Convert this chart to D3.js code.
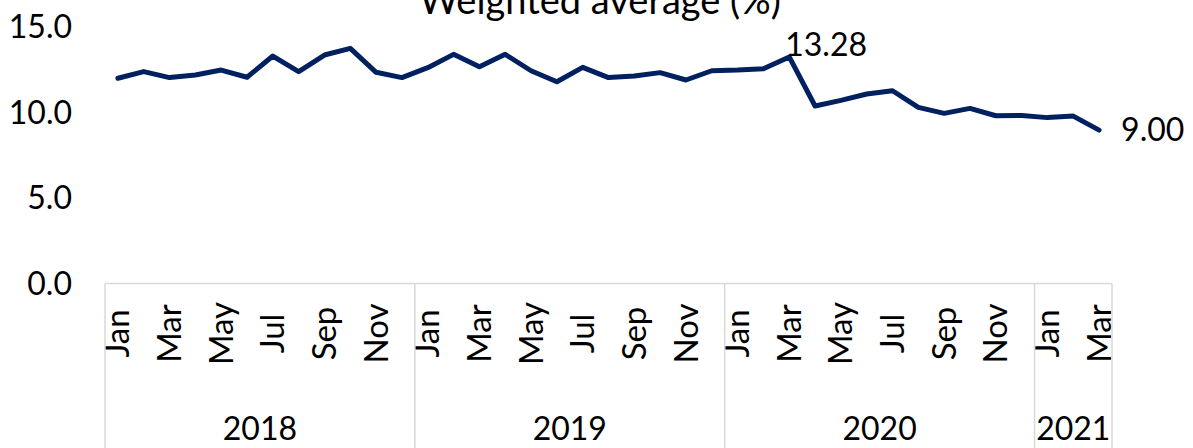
<!DOCTYPE html>
<html>
<head>
<meta charset="utf-8">
<script src="https://cdn.jsdelivr.net/npm/d3@7"></script>
<style>
  html, body { margin: 0; padding: 0; background: #fff; }
  svg { display: block; font-family: Lato, "Open Sans", sans-serif; }
</style>
</head>
<body>
<svg id="chart" width="1193" height="448"></svg>
<script>
// ---- data ----
const title = "Weighted average (%)";
const years = ["2018", "2019", "2020", "2021"];
const monthsPerYear = [12, 12, 12, 3];
const monthNames = ["Jan","Feb","Mar","Apr","May","Jun","Jul","Aug","Sep","Oct","Nov","Dec"];
const values = [
  12.03, 12.42, 12.07, 12.22, 12.51, 12.09, 13.33, 12.42, 13.39, 13.78, 12.38, 12.07,
  12.65, 13.43, 12.71, 13.43, 12.47, 11.83, 12.67, 12.07, 12.16, 12.36, 11.93, 12.47,
  12.51, 12.59, 13.28, 10.41, 10.74, 11.11, 11.30, 10.33, 9.98, 10.27, 9.84, 9.86,
  9.73, 9.82, 9.00
];
const yTicks = [0, 5, 10, 15];
const labelled = [{ idx: 26, text: "13.28", pos: "above" }, { idx: 38, text: "9.00", pos: "right" }];

// ---- build points ----
const points = [];
years.forEach((yr, yi) => {
  for (let m = 0; m < monthsPerYear[yi]; m++) {
    points.push({ key: yr + "-" + m, year: yr, month: monthNames[m], value: values[points.length] });
  }
});

const svg = d3.select("#chart");
const plotLeft = 105, plotRight = 1112, plotTop = 27.5, plotBottom = 284;

const x = d3.scaleBand().domain(points.map(d => d.key)).range([plotLeft, plotRight]).padding(0);
const y = d3.scaleLinear().domain([0, 15]).range([plotBottom, plotTop]);
const cx = k => x(k) + x.bandwidth() / 2;

// title
svg.append("text")
  .attr("x", 600).attr("y", 14)
  .attr("text-anchor", "middle")
  .attr("font-size", 38)
  .attr("fill", "#000")
  .text(title);

// y axis
const yAxis = svg.append("g")
  .attr("transform", `translate(${plotLeft},0)`)
  .call(d3.axisLeft(y).tickValues(yTicks).tickFormat(d3.format(".1f")).tickSize(0).tickPadding(33));
yAxis.select(".domain").remove();
yAxis.selectAll("text").attr("font-size", 32).attr("font-family", "Lato, sans-serif").attr("fill", "#000");

// x axis (months)
const axisY = 283.5;
const xAxis = svg.append("g")
  .attr("transform", `translate(0,${axisY})`)
  .call(d3.axisBottom(x).tickSize(0)
    .tickFormat((d, i) => (i % 2 === 0 ? points[i].month : "")));
xAxis.select(".domain").remove();
xAxis.selectAll("text")
  .attr("font-size", 33)
  .attr("font-family", "Lato, sans-serif")
  .attr("fill", "#000")
  .attr("transform", "rotate(-90)")
  .attr("text-anchor", "middle")
  .attr("x", -50)
  .attr("y", 0)
  .attr("dy", "0.35em");

// axis line and group separators
const gridColor = "#d9d9d9";
svg.append("line")
  .attr("x1", plotLeft).attr("x2", plotRight)
  .attr("y1", axisY).attr("y2", axisY)
  .attr("stroke", gridColor).attr("stroke-width", 1.5);

let start = 0;
const bounds = [];
years.forEach((yr, yi) => {
  const firstKey = points[start].key;
  const lastKey = points[start + monthsPerYear[yi] - 1].key;
  bounds.push({ year: yr, x0: x(firstKey), x1: x(lastKey) + x.bandwidth() });
  start += monthsPerYear[yi];
});
const sepXs = [bounds[0].x0].concat(bounds.map(b => b.x1));
svg.selectAll("line.sep").data(sepXs).enter().append("line")
  .attr("class", "sep")
  .attr("x1", d => d).attr("x2", d => d)
  .attr("y1", axisY).attr("y2", 448)
  .attr("stroke", gridColor).attr("stroke-width", 1.5);

svg.selectAll("text.year").data(bounds).enter().append("text")
  .attr("class", "year")
  .attr("x", d => (d.x0 + d.x1) / 2)
  .attr("y", 440)
  .attr("text-anchor", "middle")
  .attr("font-size", 32)
  .attr("fill", "#000")
  .text(d => d.year);

// line
const line = d3.line().x(d => cx(d.key)).y(d => y(d.value));
svg.append("path")
  .datum(points)
  .attr("d", line)
  .attr("fill", "none")
  .attr("stroke", "#002060")
  .attr("stroke-width", 5)
  .attr("stroke-linejoin", "round")
  .attr("stroke-linecap", "round");

// data labels
svg.selectAll("text.dl").data(labelled).enter().append("text")
  .attr("class", "dl")
  .attr("x", d => d.pos === "right" ? cx(points[d.idx].key) + 22 : cx(points[d.idx].key) - 4)
  .attr("y", d => d.pos === "right" ? y(points[d.idx].value) : y(points[d.idx].value) - 12)
  .attr("dy", "0.35em")
  .attr("text-anchor", "start")
  .attr("font-size", 32)
  .attr("fill", "#000")
  .text(d => d.text);
</script>
</body>
</html>
